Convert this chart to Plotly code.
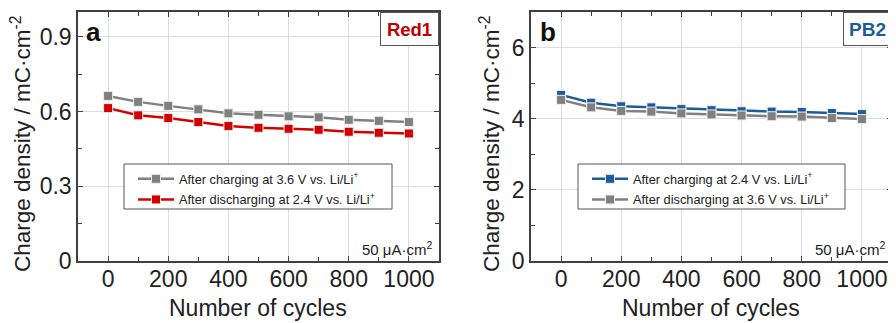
import plotly.graph_objects as go
from plotly.subplots import make_subplots

cycles = [0, 100, 200, 300, 400, 500, 600, 700, 800, 900, 1000]

# panel a - Red1
red1_charge = [0.663, 0.639, 0.623, 0.609, 0.593, 0.587, 0.581, 0.577, 0.567, 0.563, 0.558]
red1_discharge = [0.614, 0.585, 0.574, 0.558, 0.542, 0.535, 0.531, 0.527, 0.519, 0.515, 0.512]

# panel b - PB2
pb2_charge = [4.67, 4.45, 4.35, 4.32, 4.27, 4.24, 4.21, 4.20, 4.19, 4.16, 4.13]
pb2_discharge = [4.53, 4.32, 4.22, 4.20, 4.15, 4.12, 4.09, 4.07, 4.06, 4.02, 3.99]

GRAY = "#808080"
RED = "#d40000"
BLUE = "#1b5d9c"
FONT = "Arial, Liberation Sans, sans-serif"

# page has an 8px body margin, so the figure is drawn 8px in from the window corner
W, H = 888, 315
OFF = 8


def px(x):
    return (x - OFF) / W


def py(y):
    return 1 - (y - OFF) / H


fig = make_subplots(rows=1, cols=2)


def add_series(y, name, color, col, legend):
    fig.add_trace(go.Scatter(
        x=cycles, y=y, name=name, mode="lines+markers",
        line=dict(color=color, width=2.5),
        marker=dict(symbol="square", size=9, color=color,
                    line=dict(color="#eeeeee", width=1)),
        legend=legend, legendgroup=name,
    ), row=1, col=col)


add_series(red1_charge, "After charging at 3.6 V vs. Li/Li<sup>+</sup>", GRAY, 1, "legend")
add_series(red1_discharge, "After discharging at 2.4 V vs. Li/Li<sup>+</sup>", RED, 1, "legend")
add_series(pb2_charge, "After charging at 2.4 V vs. Li/Li<sup>+</sup>", BLUE, 2, "legend2")
add_series(pb2_discharge, "After discharging at 3.6 V vs. Li/Li<sup>+</sup>", GRAY, 2, "legend2")

axis_common = dict(
    showline=True, linecolor="#404040", linewidth=1.5, mirror="allticks",
    ticks="inside", ticklen=5, tickcolor="#404040", automargin=False,
    showgrid=True, gridcolor="#dddddd", gridwidth=1, zeroline=False,
    tickfont=dict(family=FONT, size=23, color="#222"),
)

fig.update_xaxes(axis_common, range=[-100, 1100], tickvals=[0, 200, 400, 600, 800, 1000],
                 ticklabelstandoff=-3,
                 minor=dict(dtick=100, ticks="inside", ticklen=4, tickcolor="#404040", showgrid=False))
fig.update_xaxes(domain=[px(78), px(439)], row=1, col=1)
fig.update_xaxes(domain=[px(531), px(892)], row=1, col=2)

fig.update_yaxes(axis_common, domain=[py(261), py(12)])
fig.update_yaxes(range=[0, 1.0], tickvals=[0, 0.3, 0.6, 0.9], ticktext=["0", "0.3", "0.6", "0.9"],
                 minor=dict(dtick=0.15, tick0=0, ticks="inside", ticklen=4, tickcolor="#404040", showgrid=False),
                 row=1, col=1)
fig.update_yaxes(range=[0, 7], tickvals=[0, 2, 4, 6],
                 minor=dict(dtick=1, tick0=0, ticks="inside", ticklen=4, tickcolor="#404040", showgrid=False),
                 row=1, col=2)

# legends sit in drawn boxes so the inner padding can match
legend_common = dict(
    bgcolor="rgba(0,0,0,0)", borderwidth=0,
    font=dict(family=FONT, size=12.8, color="#222"),
    xanchor="left", yanchor="top", itemwidth=36,
    traceorder="grouped", tracegroupgap=1,
)
fig.update_layout(
    legend=dict(legend_common, x=px(133), y=py(164)),
    legend2=dict(legend_common, x=px(587), y=py(164)),
)
for x0, x1 in [(124, 392), (578, 845)]:
    fig.add_shape(type="rect", xref="paper", yref="paper",
                  x0=px(x0), x1=px(x1), y0=py(209), y1=py(164),
                  line=dict(color="#555", width=1), fillcolor="white", layer="above")

y_title = "Charge density / mC·cm<sup>-2</sup>"
x_title = "Number of cycles"
title_font = dict(family=FONT, size=22.5, color="#222")

annotations = [
    # axis titles
    dict(text=y_title, textangle=-90, x=px(21), y=py(144), xref="paper", yref="paper",
         xanchor="center", yanchor="middle", showarrow=False, font=title_font),
    dict(text=y_title, textangle=-90, x=px(490), y=py(144), xref="paper", yref="paper",
         xanchor="center", yanchor="middle", showarrow=False, font=title_font),
    dict(text=x_title, x=px(258), y=py(308), xref="paper", yref="paper",
         xanchor="center", yanchor="middle", showarrow=False, font=dict(title_font, size=23)),
    dict(text=x_title, x=px(711), y=py(308), xref="paper", yref="paper",
         xanchor="center", yanchor="middle", showarrow=False, font=dict(title_font, size=23)),
    # panel letters
    dict(text="<b>a</b>", x=px(84), y=py(15), xref="paper", yref="paper",
         xanchor="left", yanchor="top", showarrow=False, font=dict(family=FONT, size=26, color="#111")),
    dict(text="<b>b</b>", x=px(538), y=py(15), xref="paper", yref="paper",
         xanchor="left", yanchor="top", showarrow=False, font=dict(family=FONT, size=26, color="#111")),
    # sample tags
    dict(text="<b>Red1</b>", x=1, y=1, xref="x domain", yref="y domain",
         xanchor="right", yanchor="top", showarrow=False, width=55, height=30,
         bgcolor="white", bordercolor="#555", borderwidth=1,
         font=dict(family=FONT, size=18.5, color="#c00000")),
    dict(text="<b>PB2</b>", x=1, y=1, xref="x2 domain", yref="y2 domain",
         xanchor="right", yanchor="top", showarrow=False, width=45, height=30,
         bgcolor="white", bordercolor="#555", borderwidth=1,
         font=dict(family=FONT, size=19, color=BLUE)),
    # current density
    dict(text="50 μA·cm<sup>2</sup>", x=0.99, y=0.005, xref="x domain", yref="y domain",
         xanchor="right", yanchor="bottom", showarrow=False,
         font=dict(family=FONT, size=15, color="#222")),
    dict(text="50 μA·cm<sup>2</sup>", x=0.99, y=0.005, xref="x2 domain", yref="y2 domain",
         xanchor="right", yanchor="bottom", showarrow=False,
         font=dict(family=FONT, size=15, color="#222")),
]

fig.update_layout(
    width=W, height=H,
    margin=dict(l=0, r=0, t=0, b=0),
    paper_bgcolor="white", plot_bgcolor="white",
    annotations=annotations,
)

fig.write_html("out.html")
